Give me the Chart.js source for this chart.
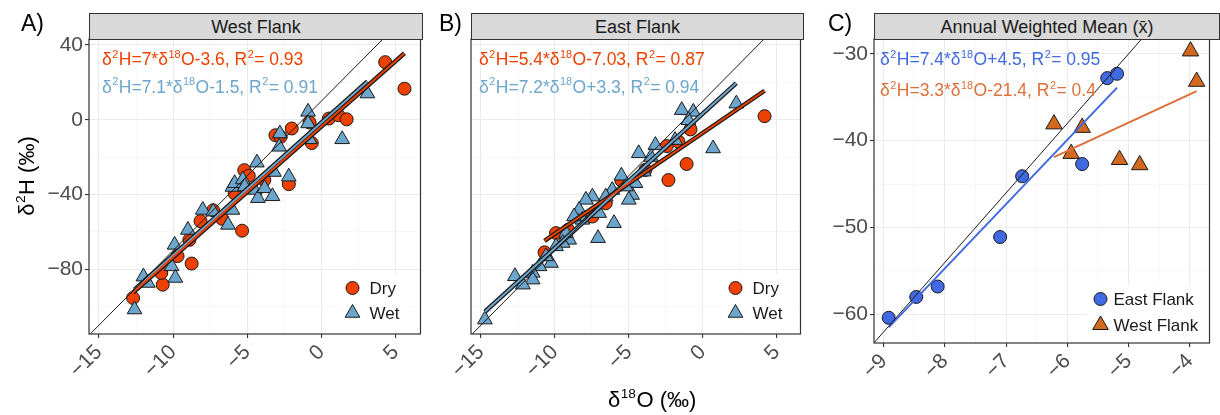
<!DOCTYPE html>
<html>
<head>
<meta charset="utf-8">
<script src="https://cdn.jsdelivr.net/npm/chart.js@4.4.1/dist/chart.umd.min.js"></script>
<style>
  body { margin: 0; background: #fff; font-family: "Liberation Sans", Arial, sans-serif; }
  #fig { position: relative; width: 1220px; height: 415px; overflow: hidden; }
  canvas { position: absolute; top: 0; }
  .strip { position: absolute; top: 13px; height: 27px; box-sizing: border-box; background: #d9d9d9;
           border: 1px solid #333; color: #1a1a1a; font-size: 18px; line-height: 27px; text-align: center; }
  .tag { position: absolute; top: 12px; font-size: 23px; line-height: 23px; color: #000; }
  .eq { position: absolute; font-size: 17.5px; line-height: 17.5px; white-space: nowrap; }
  sup { font-size: 0.62em; position: relative; top: -0.68em; vertical-align: baseline; line-height: 0; margin: 0 0.5px; }
  .title { position: absolute; font-size: 22px; line-height: 24px; color: #000; white-space: nowrap; }
</style>
</head>
<body>
<div id="fig">
  <canvas id="westChart" width="430" height="415" style="left:0"></canvas>
  <canvas id="eastChart" width="380" height="415" style="left:430px"></canvas>
  <canvas id="meanChart" width="410" height="415" style="left:810px"></canvas>

  <div class="tag" style="left:21px">A)</div>
  <div class="tag" style="left:439px">B)</div>
  <div class="tag" style="left:828px">C)</div>

  <div class="strip" style="left:89px; width:334px">West Flank</div>
  <div class="strip" style="left:471px; width:333px">East Flank</div>
  <div class="strip" style="left:874px; width:346px">Annual Weighted Mean (x̄)</div>

  <div class="eq" style="left:102px; top:51px; color:#ee4000">δ<sup>2</sup>H=7*δ<sup>18</sup>O-3.6, R<sup>2</sup>= 0.93</div>
  <div class="eq" style="left:102px; top:78.5px; color:#6ca6cd">δ<sup>2</sup>H=7.1*δ<sup>18</sup>O-1.5, R<sup>2</sup>= 0.91</div>
  <div class="eq" style="left:479px; top:51px; color:#ee4000">δ<sup>2</sup>H=5.4*δ<sup>18</sup>O-7.03, R<sup>2</sup>= 0.87</div>
  <div class="eq" style="left:479px; top:78.5px; color:#6ca6cd">δ<sup>2</sup>H=7.2*δ<sup>18</sup>O+3.3, R<sup>2</sup>= 0.94</div>
  <div class="eq" style="left:880px; top:51px; color:#4169e1">δ<sup>2</sup>H=7.4*δ<sup>18</sup>O+4.5, R<sup>2</sup>= 0.95</div>
  <div class="eq" style="left:880px; top:82px; color:#dc7038">δ<sup>2</sup>H=3.3*δ<sup>18</sup>O-21.4, R<sup>2</sup>= 0.4</div>

  <div class="title" style="left:608px; top:388px">δ<sup>18</sup>O (‰)</div>
  <div class="title" style="left:-33px; top:164px; width:120px; text-align:center; transform:rotate(-90deg)">δ<sup>2</sup>H (‰)</div>
</div>

<script>
// ## ISOTOPE PANELS ##

const FONT = '"Liberation Sans", Arial, sans-serif';
const DRY = "#ee4000";
const WET = "#6ca6cd";
const EAST = "#4169e1";
const WEST = "#d2691e";
const WEST_LINE = "#dc7038";

// Panel A - West Flank samples
const westDryX = [-12.7, -10.7, -10.8, -9.7, -8.75, -8.9, -8.15, -7.3, -6.7, -5.35, -5.85, -5.2, -4.9,
  -3.85, -3.1, -2.75, -2.2, -2.0, -0.8, -0.65, 0.5, 1.15, 1.7, 4.3, 5.6];
const westDryY = [-95.4, -88.3, -82, -73, -77, -64.3, -54.3, -48.5, -53, -59.4, -39.4, -27, -30,
  -32.3, -8.3, -9.2, -34.5, -4.7, -1.5, -12.5, 0.6, 2.4, 0.2, 30.8, 16.6];
const westWetX = [-12.6, -12.0, -11.7, -10.1, -9.85, -9.9, -9.0, -8.0, -7.3, -6.3, -6.0, -6.0, -5.85,
  -5.3, -5.17, -4.5, -4.28, -3.83, -4.35, -3.3, -3.2, -2.2, -2.85, -2.8, -0.9, -0.9, -0.8, 1.4, 3.1];
const westWetY = [-101.6, -84, -87.4, -78.5, -84.7, -67, -59, -48.3, -49.2, -56.3, -48.3, -36, -34,
  -32, -35.8, -37.6, -42, -36.7, -23, -41, -28, -30.5, -14.5, -7.4, 4.2, -2, -10.5, -10.5, 14];

// Panel B - East Flank samples
const eastDryX = [4.18, -0.83, -1.09, -1.64, -2.32, -2.43, -3.88, -5.5, -6.56, -7.46, -9.1, -9.92, -10.7];
const eastDryY = [1.9, -5.2, -23.7, -11.8, -32.3, -14.1, -26.9, -32.5, -44.7, -51.8, -58.9, -60.7, -71];
const eastWetX = [2.27, 0.7, -1.42, -0.64, -0.97, -1.87, -3.2, -3.5, -4.33, -3.99, -4.55, -4.78, -5.0,
  -5.2, -5.5, -6.12, -6.0, -6.56, -7.0, -7.08, -7.46, -7.9, -8.36, -8.14, -8.7, -9.03, -9.25, -9.47,
  -9.92, -10.26, -10.6, -11.04, -11.5, -11.5, -12.16, -12.7, -14.73];
const eastWetY = [8.6, -15.4, 5.1, 4.2, -0.3, -10.9, -13.6, -20, -18, -27.8, -34, -40.3, -42.9,
  -35.8, -30, -37.6, -55.4, -41.2, -50, -63.4, -41.2, -42.9, -48.3, -53.6, -51.8, -64.3, -60.7, -66,
  -67.8, -76.7, -73.2, -78.5, -82, -85.6, -88.3, -83.8, -107];

// Panel C - annual weighted means
const meanEastX = [-8.92, -8.47, -8.12, -7.1, -6.74, -5.76, -5.35, -5.19];
const meanEastY = [-60.4, -58.0, -56.8, -51.1, -44.1, -42.7, -32.8, -32.3];
const meanWestX = [-6.22, -5.94, -5.76, -5.15, -4.82, -3.99, -3.89];
const meanWestY = [-38.1, -41.5, -38.5, -42.2, -42.8, -29.7, -33.2];

// fitted lines (end points) and the global meteoric water line
const fitWestDryX = [-12.7, 5.6], fitWestDryY = [-92.5, 35.6];
const fitWestWetX = [-12.6, 3.1], fitWestWetY = [-91.0, 20.5];
const fitEastDryX = [-10.7, 4.18], fitEastDryY = [-64.8, 15.5];
const fitEastWetX = [-14.73, 2.27], fitEastWetY = [-102.8, 19.6];
const fitMeanEastX = [-8.92, -5.19], fitMeanEastY = [-61.5, -33.9];
const fitMeanWestX = [-6.22, -3.89], fitMeanWestY = [-41.9, -34.3];
const gmwlX = [-16, 8], gmwlY = [-118, 74];
const gmwlMeanX = [-10, -3], gmwlMeanY = [-70, -14];

// ticks (all = gridlines, major = labelled)
const flankTicksX = [-15, -12.5, -10, -7.5, -5, -2.5, 0, 2.5, 5];
const flankMajorX = [-15, -10, -5, 0, 5];
const flankTicksY = [-100, -80, -60, -40, -20, 0, 20, 40];
const flankMajorY = [-80, -40, 0, 40];
const meanTicksX = [-9, -8.5, -8, -7.5, -7, -6.5, -6, -5.5, -5, -4.5, -4];
const meanMajorX = [-9, -8, -7, -6, -5, -4];
const meanTicksY = [-60, -55, -50, -45, -40, -35, -30];
const meanMajorY = [-60, -50, -40, -30];

Chart.defaults.font.family = FONT;

const pts = (xs, ys) => xs.map((x, i) => ({ x: x, y: ys[i] }));

const line = (xs, ys, color, width) => ({
  data: pts(xs, ys),
  showLine: true,
  borderColor: color,
  borderWidth: width,
  pointRadius: 0,
  fill: false,
  clip: 0,
});

const points = (xs, ys, style, color, r) => ({
  data: pts(xs, ys),
  pointStyle: style,
  pointRadius: r,
  backgroundColor: color,
  borderColor: "#1a1a1a",
  borderWidth: 1,
});

function drawMarker(ctx, style, x, y, r) {
  ctx.beginPath();
  if (style === "triangle") {
    for (let k = 0; k < 3; k++) {
      const a = (k * 2 * Math.PI) / 3;
      if (k === 0) ctx.moveTo(x + Math.sin(a) * r, y - Math.cos(a) * r);
      else ctx.lineTo(x + Math.sin(a) * r, y - Math.cos(a) * r);
    }
    ctx.closePath();
  } else {
    ctx.arc(x, y, r, 0, Math.PI * 2);
  }
  ctx.fill();
  ctx.stroke();
}

// panel border like theme_bw
const panelFrame = {
  id: "panelFrame",
  afterDraw(chart) {
    const { ctx, chartArea: a } = chart;
    ctx.save();
    ctx.strokeStyle = "#333";
    ctx.lineWidth = 1.2;
    ctx.strokeRect(a.left, a.top, a.right - a.left, a.bottom - a.top);
    ctx.restore();
  },
};

// legend in the bottom right corner of the panel
const cornerLegend = {
  id: "cornerLegend",
  afterDatasetsDraw(chart, args, opts) {
    if (!opts.items) return;
    const { ctx, chartArea: a } = chart;
    const mx = a.right - opts.right;
    const my = a.bottom - opts.bottom;
    ctx.save();
    ctx.fillStyle = "#fff";
    ctx.fillRect(mx - 14, my - 14, opts.boxWidth, opts.items.length * opts.rowHeight + 6);
    ctx.font = "17px " + FONT;
    ctx.textBaseline = "middle";
    opts.items.forEach((item, i) => {
      const y = my + i * opts.rowHeight;
      ctx.fillStyle = item.color;
      ctx.strokeStyle = "#1a1a1a";
      ctx.lineWidth = 1;
      drawMarker(ctx, item.style, mx, y, item.r);
      ctx.fillStyle = "#1a1a1a";
      ctx.fillText(item.text, mx + opts.gap, y + 1);
    });
    ctx.restore();
  },
};

function axis(range, ticks, major, isX, size, showLabels) {
  const isMajor = (c) => c.tick && major.includes(c.tick.value);
  return {
    type: "linear",
    min: range[0],
    max: range[1],
    afterBuildTicks: (s) => {
      s.ticks = ticks.map((v) => ({ value: v }));
    },
    afterFit: (s) => {
      if (isX) s.height = size;
      else s.width = size;
    },
    border: { display: false },
    grid: {
      color: (c) => (isMajor(c) ? "#ebebeb" : "#f4f4f4"),
      lineWidth: (c) => (isMajor(c) ? 1.1 : 0.6),
      tickLength: 4,
      tickColor: (c) => (showLabels && isMajor(c) ? "#333" : "rgba(0,0,0,0)"),
    },
    ticks: {
      display: showLabels,
      autoSkip: false,
      color: "#4d4d4d",
      font: { size: 21 },
      padding: 2,
      minRotation: isX ? 45 : 0,
      maxRotation: isX ? 45 : 0,
      callback: (v) => (major.includes(v) ? String(v).replace("-", "\u2212") : ""),
    },
  };
}

function createPanel(id, setup) {
  return new Chart(document.getElementById(id), {
    type: "scatter",
    data: { datasets: setup.datasets },
    options: {
      responsive: false,
      animation: false,
      events: [],
      layout: { padding: { top: 39, right: setup.padRight, left: 0, bottom: 0 } },
      plugins: {
        legend: { display: false },
        tooltip: { enabled: false },
        cornerLegend: setup.legend,
      },
      scales: {
        x: axis(setup.xRange, setup.xTicks, setup.xMajor, true, setup.xHeight, true),
        y: axis(setup.yRange, setup.yTicks, setup.yMajor, false, setup.yWidth, setup.yLabels),
      },
    },
    plugins: [panelFrame, cornerLegend],
  });
}

const flankLegend = (right) => ({
  right: right,
  bottom: 46,
  rowHeight: 25,
  gap: 17,
  boxWidth: 72,
  items: [
    { text: "Dry", style: "circle", color: DRY, r: 6.5 },
    { text: "Wet", style: "triangle", color: WET, r: 8.5 },
  ],
});

createPanel("westChart", {
  padRight: 8,
  xHeight: 81,
  yWidth: 89,
  yLabels: true,
  xRange: [-15.67, 6.68],
  yRange: [-114.7, 43.2],
  xTicks: flankTicksX,
  xMajor: flankMajorX,
  yTicks: flankTicksY,
  yMajor: flankMajorY,
  legend: flankLegend(68),
  datasets: [
    line(gmwlX, gmwlY, "#1a1a1a", 1),
    line(fitWestDryX, fitWestDryY, DRY, 2),
    line(fitWestWetX, fitWestWetY, WET, 2),
    line(fitWestDryX, fitWestDryY, "#1a1a1a", 4.5),
    line(fitWestWetX, fitWestWetY, "#1a1a1a", 4.5),
    points(westWetX, westWetY, "triangle", WET, 8.5),
    points(westDryX, westDryY, "circle", DRY, 6.5),
  ],
});

createPanel("eastChart", {
  padRight: 7,
  xHeight: 81,
  yWidth: 41,
  yLabels: false,
  xRange: [-15.67, 6.61],
  yRange: [-114.7, 43.2],
  xTicks: flankTicksX,
  xMajor: flankMajorX,
  yTicks: flankTicksY,
  yMajor: flankMajorY,
  legend: flankLegend(65),
  datasets: [
    line(gmwlX, gmwlY, "#1a1a1a", 1),
    line(fitEastDryX, fitEastDryY, DRY, 2),
    line(fitEastWetX, fitEastWetY, WET, 2),
    line(fitEastDryX, fitEastDryY, "#1a1a1a", 4.5),
    line(fitEastWetX, fitEastWetY, "#1a1a1a", 4.5),
    points(eastWetX, eastWetY, "triangle", WET, 8.5),
    points(eastDryX, eastDryY, "circle", DRY, 6.5),
  ],
});

createPanel("meanChart", {
  padRight: 2,
  xHeight: 72,
  yWidth: 64,
  yLabels: true,
  xRange: [-9.16, -3.68],
  yRange: [-63.3, -28.3],
  xTicks: meanTicksX,
  xMajor: meanMajorX,
  yTicks: meanTicksY,
  yMajor: meanMajorY,
  legend: {
    right: 109,
    bottom: 44,
    rowHeight: 26,
    gap: 13,
    boxWidth: 124,
    items: [
      { text: "East Flank", style: "circle", color: EAST, r: 6.5 },
      { text: "West Flank", style: "triangle", color: WEST, r: 9 },
    ],
  },
  datasets: [
    line(gmwlMeanX, gmwlMeanY, "#1a1a1a", 1),
    line(fitMeanEastX, fitMeanEastY, EAST, 2),
    line(fitMeanWestX, fitMeanWestY, WEST_LINE, 2),
    points(meanWestX, meanWestY, "triangle", WEST, 9.5),
    points(meanEastX, meanEastY, "circle", EAST, 6.5),
  ],
});
</script>
</body>
</html>
